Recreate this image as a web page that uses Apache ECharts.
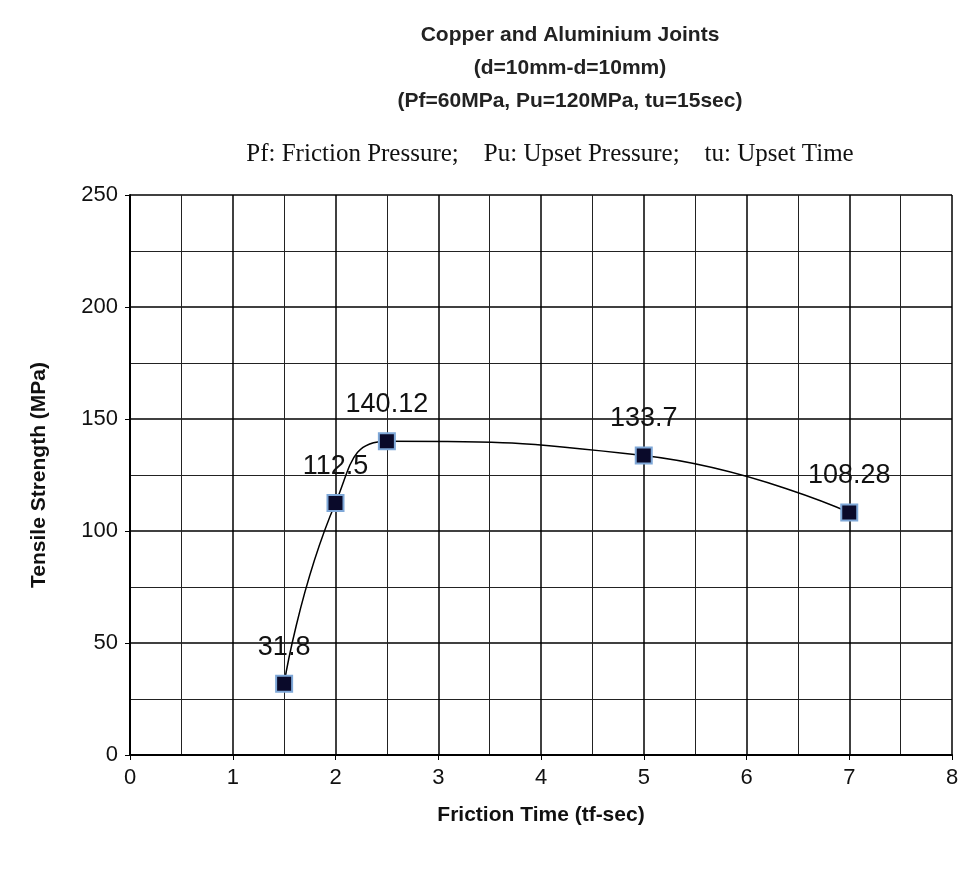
<!DOCTYPE html>
<html><head><meta charset="utf-8">
<script src="https://cdn.jsdelivr.net/npm/echarts@6/dist/echarts.min.js"></script>
<style>body{margin:0;background:#fff}#c{width:973px;height:873px}</style>
</head><body><div id="c"></div>
<script>
const frictionTime = [1.5, 2, 2.5, 5, 7];
const tensileStrength = [31.8, 112.5, 140.12, 133.7, 108.28];
const pointLabels = ['31.8', '112.5', '140.12', '133.7', '108.28'];
const chart = echarts.init(document.getElementById('c'));
const sans = 'Liberation Sans';
chart.setOption({
  backgroundColor: '#fff',
  animation: false,
  title: [
    {text: 'Copper and Aluminium Joints\n(d=10mm-d=10mm)\n(Pf=60MPa, Pu=120MPa, tu=15sec)', left: 565, top: 14, textAlign: 'center',
     textStyle: {fontFamily: sans, fontSize: 21, fontWeight: 'bold', color: '#222', lineHeight: 33}},
    {text: 'Pf: Friction Pressure;    Pu: Upset Pressure;    tu: Upset Time', left: 545, top: 137, textAlign: 'center',
     textStyle: {fontFamily: 'Liberation Serif', fontSize: 25, fontWeight: 'normal', color: '#111'}}
  ],
  grid: {left: 130, right: 21, top: 195, bottom: 118},
  xAxis: {
    type: 'value', min: 0, max: 8, interval: 1,
    name: 'Friction Time (tf-sec)', nameLocation: 'middle', nameGap: 50,
    nameTextStyle: {fontFamily: sans, fontSize: 21, fontWeight: 'bold', color: '#111'},
    axisLine: {lineStyle: {color: '#000', width: 2}},
    axisTick: {show: true, lineStyle: {color: '#000'}},
    axisLabel: {fontFamily: sans, fontSize: 22, color: '#111', margin: 12},
    splitLine: {show: true, lineStyle: {color: '#000', width: 1.5}},
    minorTick: {show: false, splitNumber: 2},
    minorSplitLine: {show: true, lineStyle: {color: '#222', width: 1}}
  },
  yAxis: {
    type: 'value', min: 0, max: 250, interval: 50,
    name: 'Tensile Strength (MPa)', nameLocation: 'middle', nameGap: 80,
    nameTextStyle: {fontFamily: sans, fontSize: 21, fontWeight: 'bold', color: '#111'},
    axisLine: {show: true, lineStyle: {color: '#000', width: 2}},
    axisTick: {show: true, lineStyle: {color: '#000'}},
    axisLabel: {fontFamily: sans, fontSize: 22, color: '#111', margin: 12},
    splitLine: {show: true, lineStyle: {color: '#000', width: 1.5}},
    minorTick: {show: false, splitNumber: 2},
    minorSplitLine: {show: true, lineStyle: {color: '#222', width: 1}}
  },
  series: [{
    type: 'line', smooth: 0.5,
    data: frictionTime.map((x, i) => [x, tensileStrength[i]]),
    symbol: 'rect', symbolSize: 16,
    itemStyle: {color: '#0a0a2a', borderColor: '#7fa8d8', borderWidth: 2},
    lineStyle: {color: '#000', width: 1.5},
    label: {show: true, position: 'top', distance: 14, fontFamily: sans, fontSize: 27, color: '#111',
      formatter: p => pointLabels[p.dataIndex]},
    labelLayout: {moveOverlap: false}
  }]
});
</script></body></html>
